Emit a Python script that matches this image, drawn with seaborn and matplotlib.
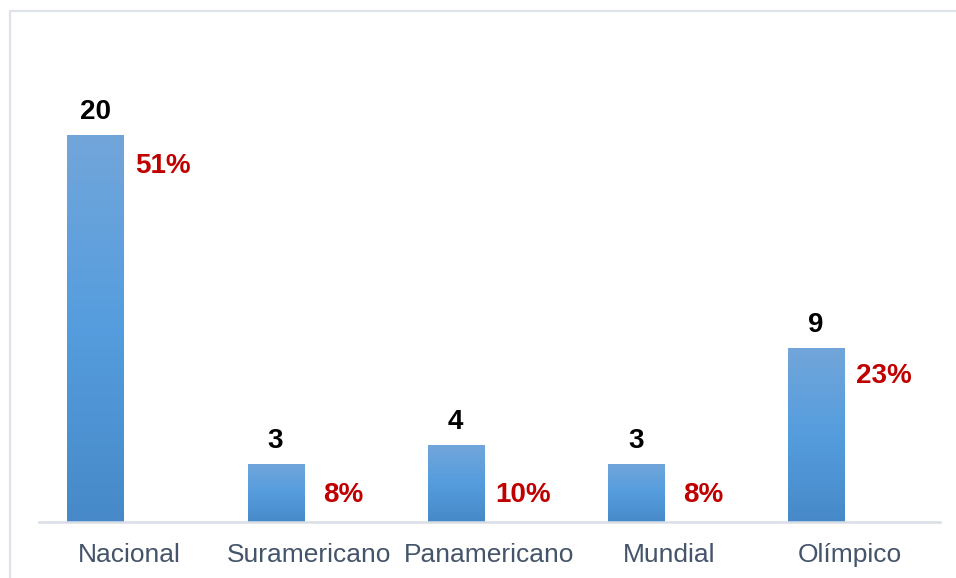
import numpy as np
import pandas as pd
import matplotlib
matplotlib.use('Agg')
import matplotlib.pyplot as plt
import seaborn as sns
from matplotlib.colors import LinearSegmentedColormap

# chart data
categorias = ['Nacional', 'Suramericano', 'Panamericano', 'Mundial', 'Olímpico']
cantidad = [20, 3, 4, 3, 9]
porcentaje = [0.513, 0.077, 0.103, 0.077, 0.231]
etiquetas_pct = ['51%', '8%', '10%', '8%', '23%']

sns.set_theme(style='white')
plt.rcParams['font.family'] = ['Liberation Sans', 'DejaVu Sans']

# long table with both series so seaborn dodges them side by side
df = pd.DataFrame({
    'Categoria': categorias * 2,
    'Serie': ['Cantidad'] * 5 + ['Porcentaje'] * 5,
    'Valor': cantidad + porcentaje,
})

fig = plt.figure(figsize=(9.56, 5.78), dpi=100)
ax = fig.add_axes([0.041, 0.097, 0.942, 0.837])
ax2 = ax.twinx()

# counts on main axis, percentages on secondary axis
sns.barplot(data=df, x='Categoria', y='Valor', hue='Serie', order=categorias,
            hue_order=['Cantidad', 'Porcentaje'], width=0.75, gap=0.17,
            palette=['#5B9BD5', '#5B9BD5'], errorbar=None, legend=False,
            saturation=1, ax=ax)
sns.barplot(data=df, x='Categoria', y='Valor', hue='Serie', order=categorias,
            hue_order=['Cantidad', 'Porcentaje'], width=0.75, gap=0.17,
            palette=['#5B9BD5', '#5B9BD5'], errorbar=None, legend=False,
            saturation=1, ax=ax2)

ax.set_ylim(0, 25)
ax2.set_ylim(0, 0.65)
ax.set_xlim(-0.5, len(categorias) - 0.5)

# gradient fill for the count bars
cmap = LinearSegmentedColormap.from_list('azul', ['#4789C8', '#559DDE', '#72A6DA'])
grad = np.linspace(0, 1, 256).reshape(-1, 1)
bars_cant = ax.patches[:5]
for p in ax.patches[5:]:
    p.set_visible(False)
for p in bars_cant:
    p.set_facecolor('none')
    p.set_edgecolor('none')
    x0, w, h = p.get_x(), p.get_width(), p.get_height()
    im = ax.imshow(grad, cmap=cmap, origin='lower', aspect='auto',
                   extent=[x0, x0 + w, 0, h], zorder=2)
    im.set_clip_path(p)
    ax.text(x0 + w / 2, h + 0.5, str(int(h)), ha='center', va='bottom',
            fontsize=20, fontweight='bold', color='black')

# percentage labels at the inside end of the (invisible) secondary bars
bars_pct = ax2.patches[5:]
for p in ax2.patches[:5]:
    p.set_visible(False)
for p, lab in zip(bars_pct, etiquetas_pct):
    p.set_alpha(0)
    x0, w, h = p.get_x(), p.get_width(), p.get_height()
    y = h - 0.035 if h > 0.15 else 0.036
    ax2.text(x0 + w / 2, y, lab, ha='center', va='center',
             fontsize=20, fontweight='bold', color='#C00000')

ax.set_xlim(-0.5, len(categorias) - 0.5)
ax.set_xlabel('')
ax.set_ylabel('')
ax2.set_ylabel('')
ax.set_yticks([])
ax2.set_yticks([])
ax.tick_params(axis='x', length=0, pad=15, labelsize=19, labelcolor='#44546A')
for s in ['top', 'right', 'left']:
    ax.spines[s].set_visible(False)
    ax2.spines[s].set_visible(False)
ax2.spines['bottom'].set_visible(False)
ax.spines['bottom'].set_color('#D9DEE6')
ax.spines['bottom'].set_linewidth(1.8)

# outer chart-area border (left and top edges visible)
fig.add_artist(plt.Line2D([0.0105, 0.0105], [0.0, 0.981], color='#DEE2EA',
                          lw=1.6, transform=fig.transFigure))
fig.add_artist(plt.Line2D([0.0105, 1.0], [0.981, 0.981], color='#DEE2EA',
                          lw=1.6, transform=fig.transFigure))

plt.savefig('out.png', dpi=100)
